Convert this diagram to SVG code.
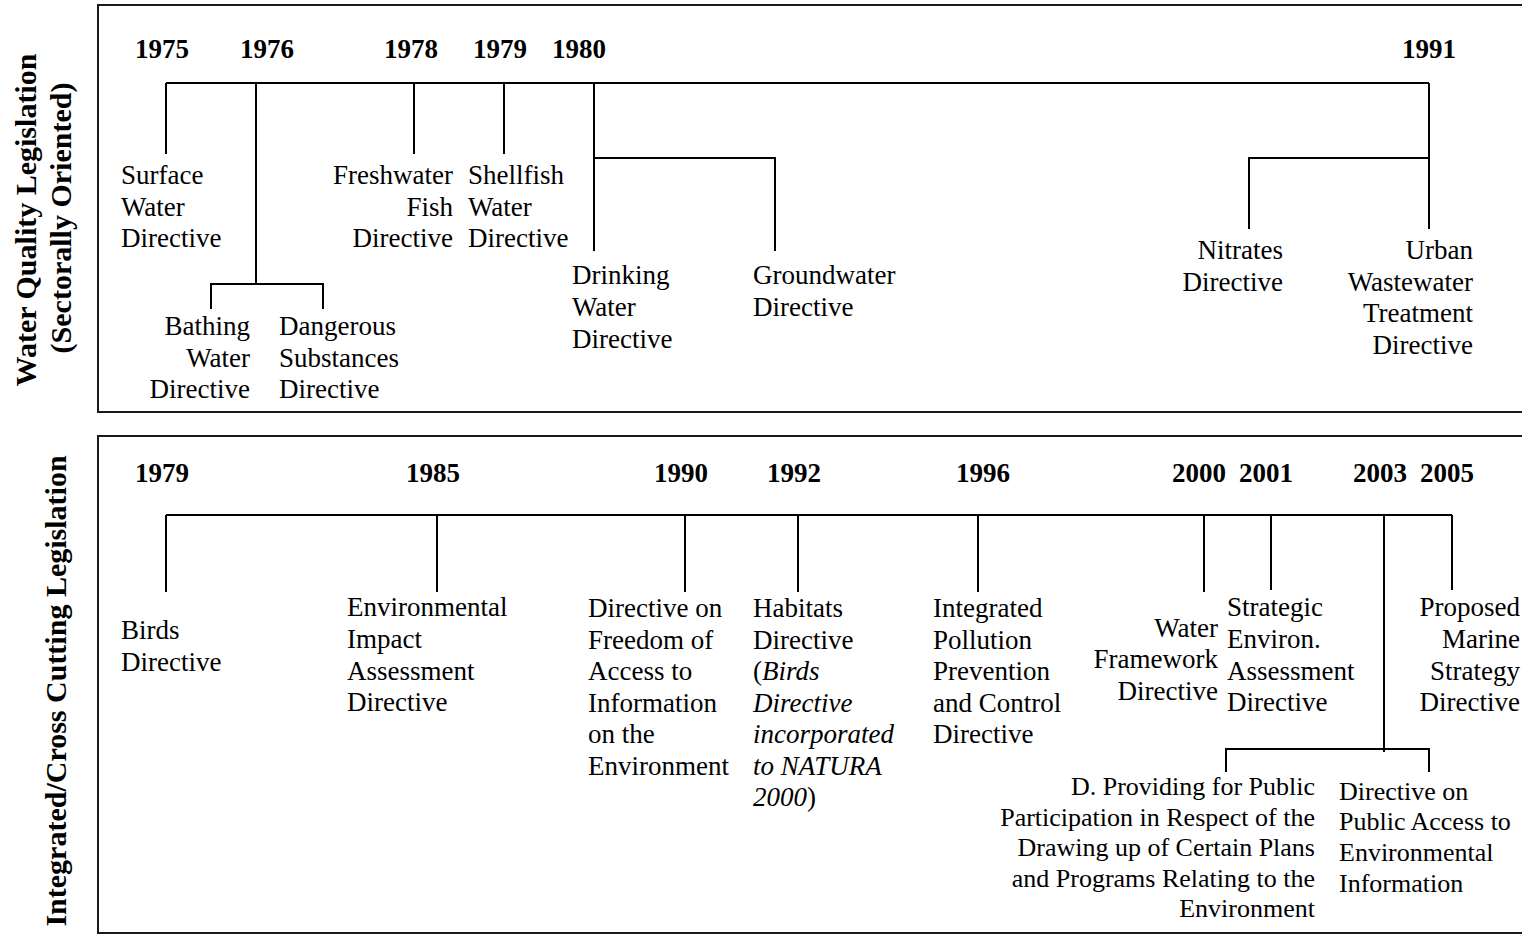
<svg xmlns="http://www.w3.org/2000/svg" width="1522" height="935" viewBox="0 0 1522 935">
<style>
.t,.s,.y,.side{font-family:"Liberation Serif",Tinos,"Times New Roman",Times,"DejaVu Serif",serif;fill:#000}
.t{font-size:27px}
.s{font-size:26px}
.y{font-size:27px;font-weight:bold}
.side{font-size:30px;font-weight:bold;text-anchor:middle}
.e{text-anchor:end}
.i{font-style:italic}
.box{fill:none;stroke:#1a1a1a;stroke-width:2}
.c{fill:none;stroke:#000;stroke-width:2}
</style>
<rect width="1522" height="935" fill="#fff"/>
<g id="panels">
<rect class="box" x="98" y="5" width="1440" height="407"/>
<rect class="box" x="98" y="436" width="1440" height="497"/>
</g>
<g id="side-labels">
<text class="side" transform="translate(36,220) rotate(-90)">Water Quality Legislation</text>
<text class="side" transform="translate(71,218) rotate(-90)">(Sectorally Oriented)</text>
<text class="side" transform="translate(66,691) rotate(-90)">Integrated/Cross Cutting Legislation</text>
</g>
<g id="years">
<text class="y" x="135" y="58">1975</text>
<text class="y" x="240" y="58">1976</text>
<text class="y" x="384" y="58">1978</text>
<text class="y" x="473" y="58">1979</text>
<text class="y" x="552" y="58">1980</text>
<text class="y" x="1402" y="58">1991</text>
<text class="y" x="135" y="482">1979</text>
<text class="y" x="406" y="482">1985</text>
<text class="y" x="654" y="482">1990</text>
<text class="y" x="767" y="482">1992</text>
<text class="y" x="956" y="482">1996</text>
<text class="y" x="1172" y="482">2000</text>
<text class="y" x="1239" y="482">2001</text>
<text class="y" x="1353" y="482">2003</text>
<text class="y" x="1420" y="482">2005</text>
</g>
<g id="connectors">
<path class="c" d="M166,83 H1429 M166,83 V154 M256,83 V284 M211,309 V284 H323 V309 M414,83 V154 M504,83 V154 M594,83 V251 M594,158 H775 V251 M1429,83 V229 M1249,229 V158 H1429"/>
<path class="c" d="M166,515 H1452 M166,515 V592 M437,515 V592 M685,515 V592 M798,515 V592 M978,515 V592 M1204,515 V592 M1271,515 V590 M1384,515 V752 M1452,515 V590 M1226,772 V749 H1429 V772"/>
</g>
<g id="surface-water">
<text class="t"><tspan x="121" y="184">Surface</tspan><tspan x="121" y="216">Water</tspan><tspan x="121" y="247">Directive</tspan></text>
</g>
<g id="bathing-water">
<text class="t e"><tspan x="250" y="335">Bathing</tspan><tspan x="250" y="367">Water</tspan><tspan x="250" y="398">Directive</tspan></text>
</g>
<g id="dangerous-substances">
<text class="t"><tspan x="279" y="335">Dangerous</tspan><tspan x="279" y="367">Substances</tspan><tspan x="279" y="398">Directive</tspan></text>
</g>
<g id="freshwater-fish">
<text class="t e"><tspan x="453" y="184">Freshwater</tspan><tspan x="453" y="216">Fish</tspan><tspan x="453" y="247">Directive</tspan></text>
</g>
<g id="shellfish-water">
<text class="t"><tspan x="468" y="184">Shellfish</tspan><tspan x="468" y="216">Water</tspan><tspan x="468" y="247">Directive</tspan></text>
</g>
<g id="drinking-water">
<text class="t"><tspan x="572" y="284">Drinking</tspan><tspan x="572" y="316">Water</tspan><tspan x="572" y="348">Directive</tspan></text>
</g>
<g id="groundwater">
<text class="t"><tspan x="753" y="284">Groundwater</tspan><tspan x="753" y="316">Directive</tspan></text>
</g>
<g id="nitrates">
<text class="t e"><tspan x="1283" y="259">Nitrates</tspan><tspan x="1283" y="291">Directive</tspan></text>
</g>
<g id="urban-wastewater">
<text class="t e"><tspan x="1473" y="259">Urban</tspan><tspan x="1473" y="291">Wastewater</tspan><tspan x="1473" y="322">Treatment</tspan><tspan x="1473" y="354">Directive</tspan></text>
</g>
<g id="birds">
<text class="t"><tspan x="121" y="639">Birds</tspan><tspan x="121" y="671">Directive</tspan></text>
</g>
<g id="eia">
<text class="t"><tspan x="347" y="616">Environmental</tspan><tspan x="347" y="648">Impact</tspan><tspan x="347" y="680">Assessment</tspan><tspan x="347" y="711">Directive</tspan></text>
</g>
<g id="freedom-access">
<text class="t"><tspan x="588" y="617">Directive on</tspan><tspan x="588" y="649">Freedom of</tspan><tspan x="588" y="680">Access to</tspan><tspan x="588" y="712">Information</tspan><tspan x="588" y="743">on the</tspan><tspan x="588" y="775">Environment</tspan></text>
</g>
<g id="habitats">
<text class="t"><tspan x="753" y="617">Habitats</tspan><tspan x="753" y="649">Directive</tspan><tspan x="753" y="680">(<tspan class="i">Birds</tspan></tspan><tspan class="i" x="753" y="712">Directive</tspan><tspan class="i" x="753" y="743">incorporated</tspan><tspan class="i" x="753" y="775">to NATURA</tspan><tspan x="753" y="806"><tspan class="i">2000</tspan>)</tspan></text>
</g>
<g id="ippc">
<text class="t"><tspan x="933" y="617">Integrated</tspan><tspan x="933" y="649">Pollution</tspan><tspan x="933" y="680">Prevention</tspan><tspan x="933" y="712">and Control</tspan><tspan x="933" y="743">Directive</tspan></text>
</g>
<g id="water-framework">
<text class="t e"><tspan x="1218" y="637">Water</tspan><tspan x="1218" y="668">Framework</tspan><tspan x="1218" y="700">Directive</tspan></text>
</g>
<g id="sea">
<text class="t"><tspan x="1227" y="616">Strategic</tspan><tspan x="1227" y="648">Environ.</tspan><tspan x="1227" y="680">Assessment</tspan><tspan x="1227" y="711">Directive</tspan></text>
</g>
<g id="marine-strategy">
<text class="t e"><tspan x="1520" y="616">Proposed</tspan><tspan x="1520" y="648">Marine</tspan><tspan x="1520" y="680">Strategy</tspan><tspan x="1520" y="711">Directive</tspan></text>
</g>
<g id="public-participation">
<text class="s e"><tspan x="1315" y="795">D. Providing for Public</tspan><tspan x="1315" y="826">Participation in Respect of the</tspan><tspan x="1315" y="856">Drawing up of Certain Plans</tspan><tspan x="1315" y="887">and Programs Relating to the</tspan><tspan x="1315" y="917">Environment</tspan></text>
</g>
<g id="public-access">
<text class="s"><tspan x="1339" y="800">Directive on</tspan><tspan x="1339" y="830">Public Access to</tspan><tspan x="1339" y="861">Environmental</tspan><tspan x="1339" y="892">Information</tspan></text>
</g>
</svg>
